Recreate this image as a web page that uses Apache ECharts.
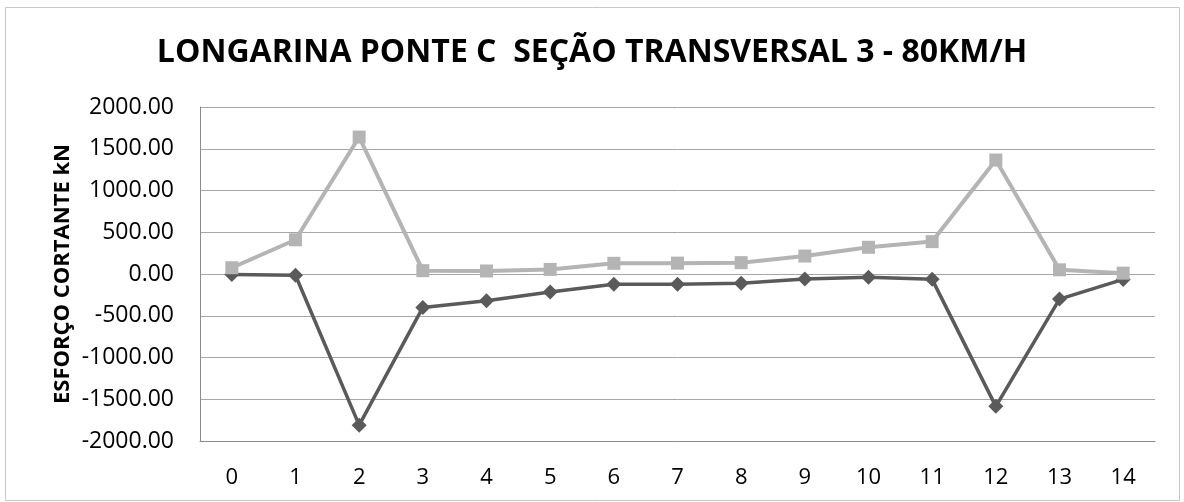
<!DOCTYPE html>
<html>
<head>
<meta charset="utf-8">
<script src="https://cdn.jsdelivr.net/npm/echarts@6/dist/echarts.min.js"></script>
<style>
  html, body { margin: 0; padding: 0; background: #fff; }
  #chart { width: 1184px; height: 502px; }
</style>
</head>
<body>
<div id="chart"></div>
<script>
// Section stations along the girder
const categories = ['0', '1', '2', '3', '4', '5', '6', '7', '8', '9', '10', '11', '12', '13', '14'];
// Shear force envelope (kN): minimum (dark, diamonds) and maximum (light, squares)
const shearMin = [-5, -15, -1810, -400, -320, -215, -124, -122, -112, -60, -40, -64, -1585, -300, -65];
const shearMax = [75, 410, 1640, 40, 36, 55, 128, 130, 136, 215, 320, 388, 1365, 50, 10];
// Value axis ticks
const yMin = -2000, yMax = 2000, yStep = 500;

const FONT = '"Open Sans", "Noto Sans", sans-serif';
const chart = echarts.init(document.getElementById('chart'), null, { renderer: 'canvas' });

chart.setOption({
  backgroundColor: '#ffffff',
  animation: false,
  title: {
    text: 'LONGARINA PONTE C  SEÇÃO TRANSVERSAL 3 - 80KM/H',
    left: 'center',
    top: 32,
    textStyle: { fontFamily: FONT, fontWeight: 'bold', fontSize: 32, color: '#000' }
  },
  graphic: [{
    type: 'rect',
    shape: { x: 5.5, y: 7.5, width: 1174, height: 493 },
    style: { fill: 'none', stroke: '#c8c8c8', lineWidth: 1 },
    silent: true
  }],
  grid: { left: 200, right: 29, top: 107, bottom: 61 },
  xAxis: {
    type: 'category',
    data: categories,
    boundaryGap: true,
    axisLine: { show: true, onZero: false, lineStyle: { color: '#8c8c8c', width: 1 } },
    axisTick: { show: false },
    axisLabel: { fontFamily: FONT, fontSize: 22, color: '#000', margin: 26 }
  },
  yAxis: {
    type: 'value',
    min: yMin,
    max: yMax,
    interval: yStep,
    name: 'ESFORÇO CORTANTE kN',
    nameLocation: 'middle',
    nameGap: 126,
    nameMoveOverlap: false,
    nameTextStyle: { fontFamily: FONT, fontWeight: 'bold', fontSize: 22, color: '#000' },
    axisLine: { show: true, lineStyle: { color: '#8c8c8c', width: 1 } },
    axisTick: { show: false },
    splitLine: { show: true, lineStyle: { color: '#a6a6a6', width: 1 } },
    axisLabel: {
      fontFamily: FONT, fontSize: 23, color: '#000', margin: 26,
      formatter: v => v.toFixed(2)
    }
  },
  series: [
    {
      name: 'Mínimo',
      type: 'line',
      data: shearMin,
      symbol: 'diamond',
      symbolSize: 15,
      lineStyle: { color: '#5a5a5a', width: 3.5 },
      itemStyle: { color: '#5a5a5a' },
      z: 2
    },
    {
      name: 'Máximo',
      type: 'line',
      data: shearMax,
      symbol: 'rect',
      symbolSize: 13,
      lineStyle: { color: '#b4b4b4', width: 4 },
      itemStyle: { color: '#b4b4b4' },
      z: 3
    }
  ]
});
</script>
</body>
</html>
